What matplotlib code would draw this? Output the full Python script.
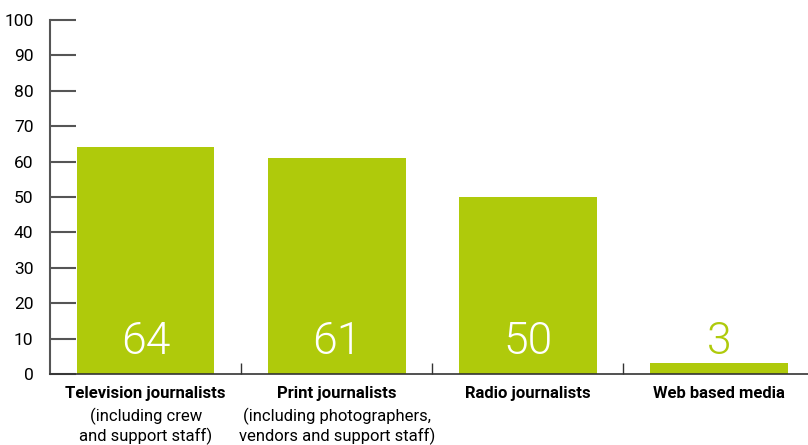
import numpy as np
import matplotlib
matplotlib.use("Agg")
import matplotlib.pyplot as plt

# datos
categorias = ["Television journalists", "Print journalists",
              "Radio journalists", "Web based media"]
subtitulos = ["(including crew\nand support staff)",
              "(including photographers,\nvendors and support staff)",
              "", ""]
valores = [64, 61, 50, 3]
yticks = [0, 10, 20, 30, 40, 50, 60, 70, 80, 90, 100]

verde = "#afca0b"

plt.rcParams["font.family"] = ["Roboto", "DejaVu Sans"]

fig = plt.figure(figsize=(8.08, 4.45), dpi=100)
ax = fig.add_axes([0.062, 0.1596, 0.938, 0.7955])

x = np.arange(len(categorias))
ax.bar(x, valores, width=0.72, color=verde, zorder=2)

for i, v in enumerate(valores):
    color = "white" if v > 20 else verde
    ax.text(i, 9, str(v), ha="center", va="center", fontsize=32,
            color=color, fontweight=300, zorder=3)

ax.set_xlim(-0.5, 3.466)
ax.set_ylim(0, 100)
ax.set_yticks(yticks)
ax.tick_params(axis="y", direction="in", length=19, width=1.5,
               color="#555555", labelsize=12.5, pad=12)
ax.set_xticks(x)
ax.set_xticklabels(categorias, fontweight="bold", fontsize=12)
ax.tick_params(axis="x", which="major", length=0, pad=9)
ax.set_xticks([0.5, 1.5, 2.5], minor=True)
ax.tick_params(axis="x", which="minor", direction="in", length=8,
               width=1, color="#333333")

for i, s in enumerate(subtitulos):
    if s:
        ax.annotate(s, xy=(i, 0), xycoords=("data", "axes fraction"),
                    xytext=(0, -24), textcoords="offset points",
                    ha="center", va="top", fontsize=12,
                    linespacing=1.2)

for lado in ["top", "right"]:
    ax.spines[lado].set_visible(False)
ax.spines["left"].set_color("#555555")
ax.spines["left"].set_linewidth(1.5)
ax.spines["bottom"].set_color("#333333")
ax.spines["bottom"].set_linewidth(1.2)

fig.savefig("out.png", dpi=100)
